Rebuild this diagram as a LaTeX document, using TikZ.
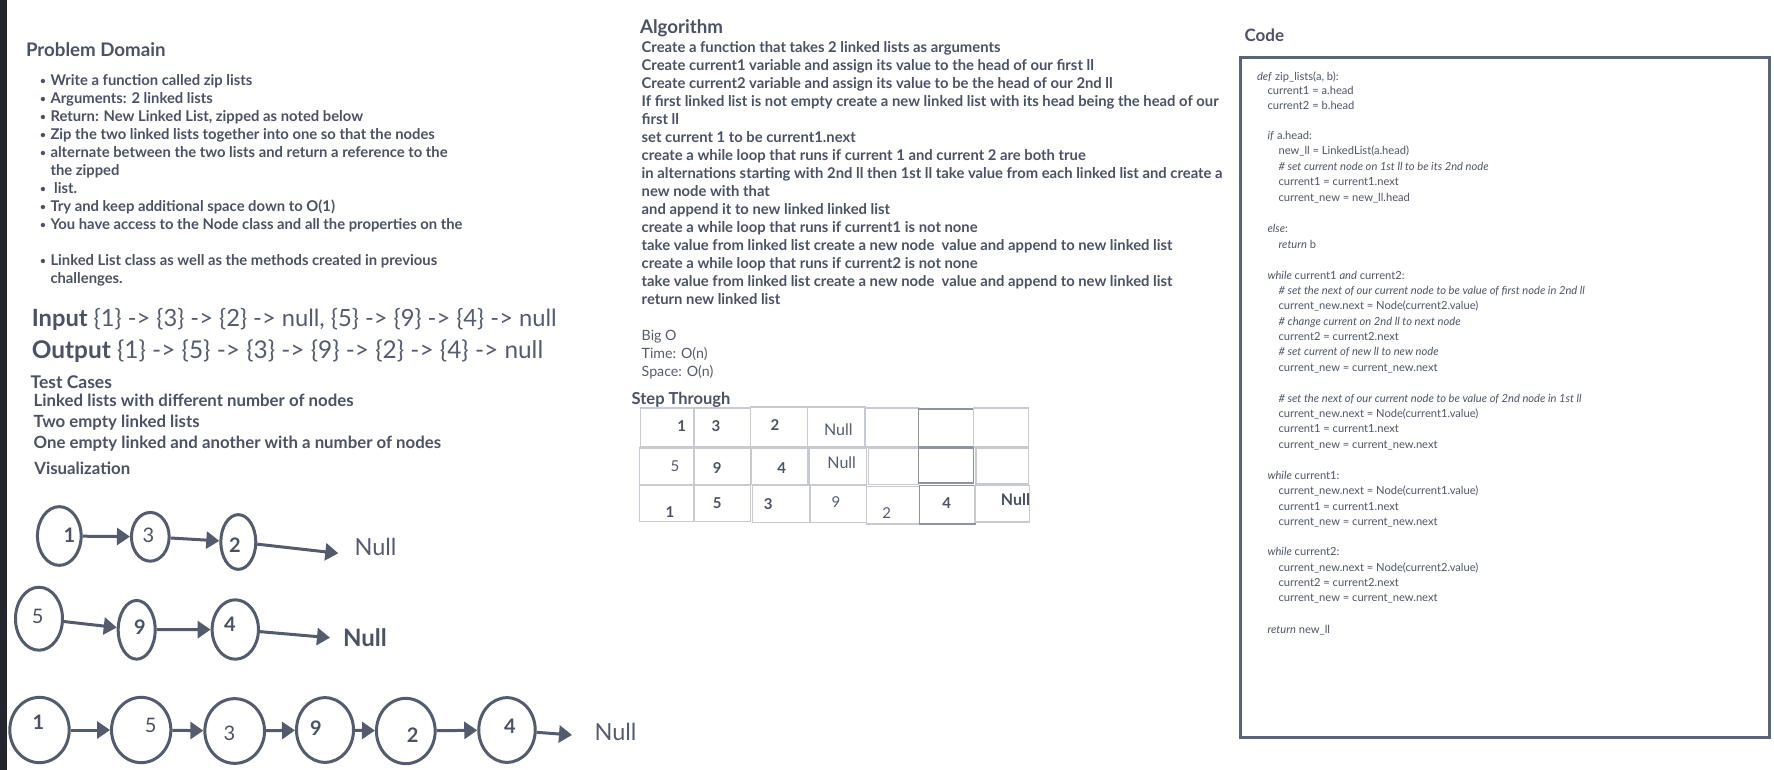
\documentclass[tikz,border=0pt]{standalone}
\usepackage{fontspec}
\setmainfont{Lato}
\usetikzlibrary{shapes.geometric,arrows.meta}
\definecolor{txt}{HTML}{4B5263}
\definecolor{txtl}{HTML}{555C6D}
\definecolor{codec}{HTML}{4E5566}
\definecolor{ink}{HTML}{535B6D}
\definecolor{celll}{HTML}{C7CAD1}
\definecolor{celld}{HTML}{8E939E}
\definecolor{boxc}{HTML}{5B6377}
\definecolor{strip}{HTML}{23262D}
\newcommand{\bulletmark}{\makebox[10.5pt][l]{\raisebox{0.8pt}{\fontsize{10}{10}\selectfont•}}}
\tikzset{
  tx/.style={anchor=west, inner sep=0pt, outer sep=0pt, text=txt, text height=#1, text depth=0pt},
  head/.style={tx=13.46pt, font=\fontsize{18.7}{22}\selectfont\bfseries},
  codehead/.style={tx=12.24pt, font=\fontsize{17}{20}\selectfont\bfseries},
  tchead/.style={tx=12.6pt, font=\fontsize{17.5}{21}\selectfont\bfseries},
  sthead/.style={tx=11.9pt, font=\fontsize{16.5}{20}\selectfont\bfseries},
  body/.style={tx=10.66pt, font=\fontsize{14.8}{18}\selectfont\bfseries},
  tcbody/.style={tx=12.1pt, font=\fontsize{16.8}{20}\selectfont\bfseries},
  plain/.style={tx=10.22pt, font=\fontsize{14.2}{17}\selectfont, text=txtl},
  bigin/.style={tx=17.06pt, font=\fontsize{23.7}{28}\selectfont, text=txtl},
  bigout/.style={tx=17.57pt, font=\fontsize{24.4}{29}\selectfont, text=txtl},
  code/.style={tx=8.03pt, font=\fontsize{11.15}{13}\selectfont, text=codec},
  num/.style={anchor=center, inner sep=0pt, outer sep=0pt, text=txt, text height=14.4pt, text depth=0pt, font=\fontsize{20}{24}\selectfont},
  numb/.style={num, font=\fontsize{20}{24}\selectfont\bfseries},
  nulltx/.style={anchor=center, inner sep=0pt, outer sep=0pt, text=txtl, text height=16.9pt, text depth=0pt, font=\fontsize{23.5}{28}\selectfont},
  nulltxb/.style={nulltx, text=txt, text height=17.3pt, font=\fontsize{24}{28}\selectfont\bfseries},
  tnum/.style={anchor=center, inner sep=0pt, outer sep=0pt, text=txtl, text height=10.8pt, text depth=0pt, font=\fontsize{15}{18}\selectfont},
  tnumb/.style={tnum, text=txt, font=\fontsize{15}{18}\selectfont\bfseries},
  tnull/.style={tnum, text height=11.5pt, font=\fontsize{16}{19}\selectfont},
  tnullb/.style={tnull, text=txt, font=\fontsize{16}{19}\selectfont\bfseries},
  llnode/.style={draw=ink, line width=3pt, ellipse, inner sep=0pt},
  arr/.style={draw=ink, line width=3pt, -{Triangle[length=13pt,width=17pt]}},
  cell/.style={draw=celll, line width=1.5pt},
  celldark/.style={draw=celld, line width=1.5pt}
}
\begin{document}
\begin{tikzpicture}[x=1pt,y=-1pt]
\useasboundingbox (0,0) rectangle (1774,770);
\fill[white] (0,0) rectangle (1774,770);
\fill[strip] (0,0) rectangle (7,770);

% ---------- Problem Domain ----------
\node[head] (pdh) at (26,50) {Problem Domain};
\node[body] (pd1) at (40,80) {\bulletmark Write a function called zip lists};
\node[body] (pd2) at (40,98) {\bulletmark Arguments: 2 linked lists};
\node[body] (pd3) at (40,116) {\bulletmark Return: New Linked List, zipped as noted below};
\node[body] (pd4) at (40,134) {\bulletmark Zip the two linked lists together into one so that the nodes};
\node[body] (pd5) at (40,152) {\bulletmark alternate between the two lists and return a reference to the};
\node[body] (pd6) at (50.5,170) {the zipped};
\node[body] (pd7) at (40,188) {\bulletmark\ list.};
\node[body] (pd8) at (40,206) {\bulletmark Try and keep additional space down to O(1)};
\node[body] (pd9) at (40,224) {\bulletmark You have access to the Node class and all the properties on the};
\node[body] (pd10) at (40,260) {\bulletmark Linked List class as well as the methods created in previous};
\node[body] (pd11) at (50.5,278) {challenges.};

% ---------- Input / Output ----------
\node[bigin] (inp) at (31.8,318) {{\bfseries\color{txt}Input} \{1\} -> \{3\} -> \{2\} -> null, \{5\} -> \{9\} -> \{4\} -> null};
\node[bigout] (outp) at (31.8,350) {{\bfseries\color{txt}Output} \{1\} -> \{5\} -> \{3\} -> \{9\} -> \{2\} -> \{4\} -> null};

% ---------- Test cases ----------
\node[tchead] (tch) at (30.6,382.5) {Test Cases};
\node[tcbody] (tc1) at (33.7,400) {Linked lists with different number of nodes};
\node[tcbody] (tc2) at (33.7,421) {Two empty linked lists};
\node[tcbody] (tc3) at (33.7,442) {One empty linked and another with a number of nodes};
\node[tcbody] (vis) at (34.4,468) {Visualization};

% ---------- Visualization ----------
% row 1
\node[llnode, minimum width=43.7pt, minimum height=58.7pt] (a1) at (59.3,536) {};
\node[llnode, minimum width=37.7pt, minimum height=48.7pt] (a2) at (150.3,536.8) {};
\node[llnode, minimum width=35pt, minimum height=54.7pt] (a3) at (238.3,542) {};
\node[numb] (a1t) at (69.3,535.7) {1};
\node[num] (a2t) at (148.3,535) {3};
\node[numb] (a3t) at (235,545) {2};
\coordinate (n1e) at (338.3,553.3);
\node[nulltx] (n1t) at (375.5,546.7) {Null};
\draw[arr] (a1) -- (a2);
\draw[arr] (a2) -- (a3);
\draw[arr] (a3) -- (n1e);
% row 2
\node[llnode, minimum width=47pt, minimum height=63pt] (b1) at (39,618.7) {};
\node[llnode, minimum width=37pt, minimum height=58.7pt] (b2) at (136.7,629.8) {};
\node[llnode, minimum width=46.3pt, minimum height=59.4pt] (b3) at (235.3,629.5) {};
\node[num] (b1t) at (37.7,616.7) {5};
\node[numb] (b2t) at (140,627.7) {9};
\node[numb] (b3t) at (230,624.3) {4};
\coordinate (n2e) at (330,637.7);
\node[nulltxb] (n2t) at (365,638.3) {Null};
\draw[arr] (b1) -- (b2);
\draw[arr] (b2) -- (b3);
\draw[arr] (b3) -- (n2e);
% row 3
\node[llnode, minimum width=59.4pt, minimum height=65.3pt] (c1) at (39.5,730) {};
\node[llnode, minimum width=59.3pt, minimum height=65.3pt] (c2) at (141.2,730) {};
\node[llnode, minimum width=59.7pt, minimum height=64.7pt] (c3) at (234.7,731) {};
\node[llnode, minimum width=57pt, minimum height=64.7pt] (c4) at (325,730) {};
\node[llnode, minimum width=58.7pt, minimum height=65.3pt] (c5) at (405.8,731) {};
\node[llnode, minimum width=56.5pt, minimum height=64.7pt] (c6) at (507,730) {};
\node[numb] (c1t) at (38.3,722.7) {1};
\node[num] (c2t) at (150.7,725.7) {5};
\node[num] (c3t) at (229.3,733.3) {3};
\node[numb] (c4t) at (316,728.3) {9};
\node[numb] (c5t) at (412.7,735) {2};
\node[numb] (c6t) at (510,726.7) {4};
\coordinate (n3e) at (572,735);
\node[nulltx] (n3t) at (615.5,731.7) {Null};
\draw[arr] (c1) -- (c2);
\draw[arr] (c2) -- (c3);
\draw[arr] (c3) -- (c4);
\draw[arr] (c4) -- (c5);
\draw[arr] (c5) -- (c6);
\draw[arr] (c6) -- (n3e);

% ---------- Algorithm ----------
\node[head] (alh) at (640,27) {Algorithm};
\node[body] (al0) at (641.7,47) {Create a function that takes 2 linked lists as arguments};
\node[body] (al1) at (641.7,65) {Create current1 variable and assign its value to the head of our first ll};
\node[body] (al2) at (641.7,83) {Create current2 variable and assign its value to be the head of our 2nd ll};
\node[body] (al3) at (641.7,101) {If first linked list is not empty create a new linked list with its head being the head of our};
\node[body] (al4) at (641.7,119) {first ll};
\node[body] (al5) at (641.7,137) {set current 1 to be current1.next};
\node[body] (al6) at (641.7,155) {create a while loop that runs if current 1 and current 2 are both true};
\node[body] (al7) at (641.7,173) {in alternations starting with 2nd ll then 1st ll take value from each linked list and create a};
\node[body] (al8) at (641.7,191) {new node with that};
\node[body] (al9) at (641.7,209) {and append it to new linked linked list};
\node[body] (al10) at (641.7,227) {create a while loop that runs if current1 is not none};
\node[body] (al11) at (641.7,245) {take value from linked list create a new node\ \ value and append to new linked list};
\node[body] (al12) at (641.7,263) {create a while loop that runs if current2 is not none};
\node[body] (al13) at (641.7,281) {take value from linked list create a new node\ \ value and append to new linked list};
\node[body] (al14) at (641.7,299) {return new linked list};
\node[plain] (bo1) at (641.7,335) {Big O};
\node[plain] (bo2) at (641.7,353) {Time: O(n)};
\node[plain] (bo3) at (641.7,371) {Space: O(n)};

% ---------- Step through ----------
\node[sthead] (sth) at (631.7,398.8) {Step Through};
% row 1
\draw[cell] (640.7,408) rectangle (694,447);
\draw[cell] (694,408) rectangle (750.7,447);
\draw[cell] (750.7,407) rectangle (807.3,447);
\draw[cell] (807.3,407) rectangle (865,447);
\draw[cell] (865,408) rectangle (918.3,447);
\draw[celldark] (918.3,409) rectangle (973.3,447);
\draw[cell] (973.3,408) rectangle (1028.3,447);
% row 2
\draw[cell] (639.3,448) rectangle (694,484.3);
\draw[cell] (694,448) rectangle (750.7,484.3);
\draw[cell] (751.7,448) rectangle (807.3,484.3);
\draw[cell] (809,448) rectangle (866.7,484.3);
\draw[cell] (868.7,448) rectangle (918.3,484.3);
\draw[celldark] (918.3,448) rectangle (973.3,483);
\draw[cell] (976,448) rectangle (1028.3,484);
% row 3
\draw[cell] (639.3,485.3) rectangle (694,521.7);
\draw[cell] (694,485.3) rectangle (750.7,521.7);
\draw[cell] (752.7,485.3) rectangle (810,522.7);
\draw[cell] (810,485.3) rectangle (866.7,522.7);
\draw[cell] (866.7,486.7) rectangle (919.3,524);
\draw[celldark] (919.3,485.3) rectangle (975,524);
\draw[cell] (975,485.3) rectangle (1029.3,522);
% texts
\node[tnumb] (t11) at (681.7,425.7) {1};
\node[tnumb] (t12) at (716,425.7) {3};
\node[tnumb] (t13) at (775,425) {2};
\node[tnull] (t14) at (838.3,429.3) {Null};
\node[tnum] (t21) at (675,466) {5};
\node[tnumb] (t22) at (717.3,468.3) {9};
\node[tnumb] (t23) at (781.7,468.3) {4};
\node[tnull] (t24) at (841.7,462.7) {Null};
\node[tnumb] (t31) at (670,512.3) {1};
\node[tnumb] (t32) at (717.3,502.7) {5};
\node[tnumb] (t33) at (768.3,504) {3};
\node[tnum] (t34) at (836,501.7) {9};
\node[tnum] (t35) at (886.7,513.3) {2};
\node[tnumb] (t36) at (946.7,503.3) {4};
\node[tnullb, anchor=east] (t37) at (1030,500) {Null};

% ---------- Code ----------
\node[codehead] (cdh) at (1244.6,35.7) {Code};
\node[draw=boxc, line width=3pt, anchor=north west, inner sep=0pt, minimum width=529.5pt, minimum height=679pt] (codebox) at (1238.5,56.5) {};
\node[code] (k0) at (1257,76.7) {\textit{def} zip\_lists(a, b):};
\node[code] (k1) at (1267.5,90) {current1 = a.head};
\node[code] (k2) at (1267.5,105.3) {current2 = b.head};
\node[code] (k4) at (1267.5,135) {\textit{if} a.head:};
\node[code] (k5) at (1278.6,150.5) {new\_ll = LinkedList(a.head)};
\node[code] (k6) at (1278.6,166) {\textit{\# set current node on 1st ll to be its 2nd node}};
\node[code] (k7) at (1278.6,181.7) {current1 = current1.next};
\node[code] (k8) at (1278.6,197.5) {current\_new = new\_ll.head};
\node[code] (k10) at (1267.5,228.3) {\textit{else}:};
\node[code] (k11) at (1278.6,244) {\textit{return} b};
\node[code] (k13) at (1267.5,275) {\textit{while} current1 \textit{and} current2:};
\node[code] (k14) at (1278.6,290.3) {\textit{\# set the next of our current node to be value of first node in 2nd ll}};
\node[code] (k15) at (1278.6,305.7) {current\_new.next = Node(current2.value)};
\node[code] (k16) at (1278.6,321) {\textit{\# change current on 2nd ll to next node}};
\node[code] (k17) at (1278.6,336.3) {current2 = current2.next};
\node[code] (k18) at (1278.6,351.7) {\textit{\# set current of new ll to new node}};
\node[code] (k19) at (1278.6,367) {current\_new = current\_new.next};
\node[code] (k21) at (1278.6,398.3) {\textit{\# set the next of our current node to be value of 2nd node in 1st ll}};
\node[code] (k22) at (1278.6,413.5) {current\_new.next = Node(current1.value)};
\node[code] (k23) at (1278.6,428.8) {current1 = current1.next};
\node[code] (k24) at (1278.6,444) {current\_new = current\_new.next};
\node[code] (k26) at (1267.5,475) {\textit{while} current1:};
\node[code] (k27) at (1278.6,490.6) {current\_new.next = Node(current1.value)};
\node[code] (k28) at (1278.6,506) {current1 = current1.next};
\node[code] (k29) at (1278.6,521.3) {current\_new = current\_new.next};
\node[code] (k31) at (1267.5,551.7) {\textit{while} current2:};
\node[code] (k32) at (1278.6,567) {current\_new.next = Node(current2.value)};
\node[code] (k33) at (1278.6,582.3) {current2 = current2.next};
\node[code] (k34) at (1278.6,597.7) {current\_new = current\_new.next};
\node[code] (k36) at (1267.5,629) {\textit{return} new\_ll};
\end{tikzpicture}
\end{document}
